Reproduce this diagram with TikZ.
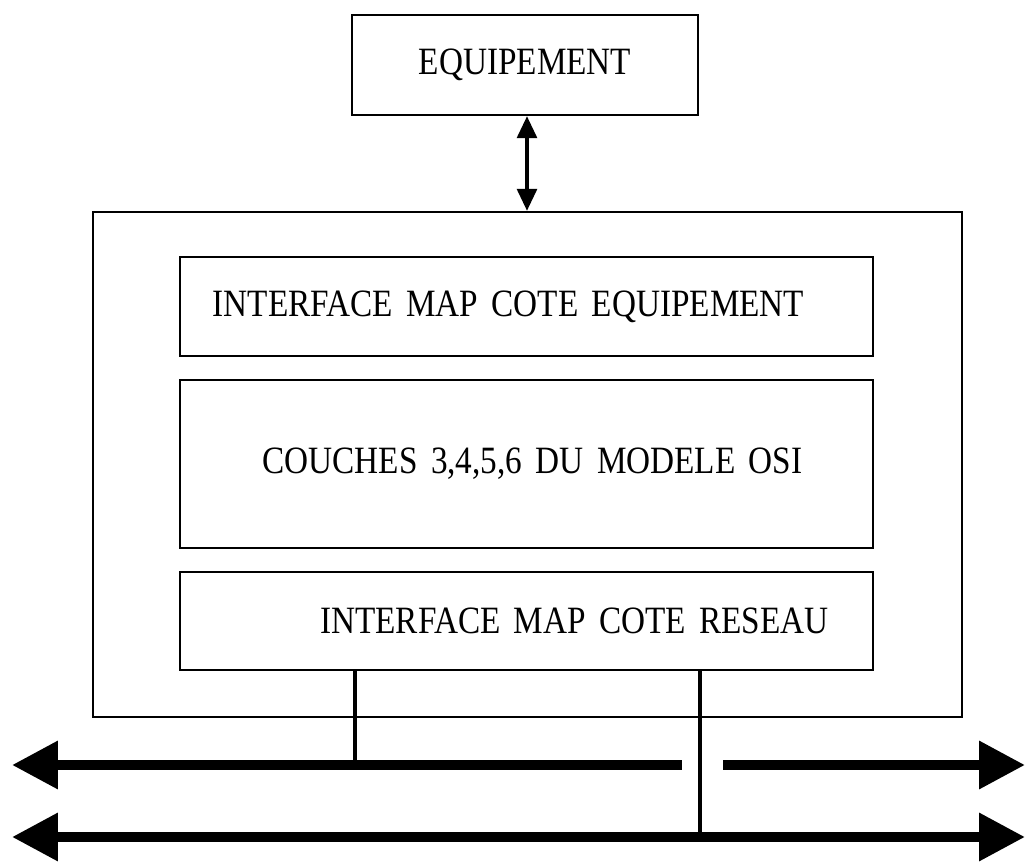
\documentclass[tikz,border=0pt]{standalone}
\usepackage{fontspec}
\setmainfont[FakeStretch=0.86,WordSpace=1.6]{Liberation Serif}
\usetikzlibrary{arrows.meta}
\tikzset{
  boite/.style={draw, line width=0.7pt, rectangle, inner sep=0pt},
  titre/.style={font=\fontsize{11}{13}\selectfont},
  bus/.style={line width=2.8pt, {Triangle[length=4.6mm,width=4.6mm]}-{Triangle[length=4.6mm,width=4.6mm]}},
}
\begin{document}
\begin{tikzpicture}
      \useasboundingbox (0,0) rectangle (10.27,8.65);
      \node[boite, titre, minimum width=3.46cm, minimum height=1.00cm] (equip) at (5.25,8.00) {EQUIPEMENT};
      \node[boite, minimum width=8.69cm, minimum height=5.05cm] (map) at (5.275,4.005) {};
      \node[boite, minimum width=6.93cm, minimum height=0.99cm,
        label={[titre, xshift=-1.8mm]center:INTERFACE MAP COTE EQUIPEMENT}] (haut) at (5.265,5.585) {};
      \node[boite, minimum width=6.93cm, minimum height=1.68cm,
        label={[titre, xshift=0.6mm]center:COUCHES 3,4,5,6 DU MODELE OSI}] (osi) at (5.265,4.01) {};
      \node[boite, minimum width=6.93cm, minimum height=0.98cm,
        label={[titre, xshift=4.8mm]center:INTERFACE MAP COTE RESEAU}] (bas) at (5.265,2.44) {};
      % bus du reseau
      \coordinate (g1) at (0.12,1.00);
      \coordinate (c1) at (6.82,1.00);
      \coordinate (c2) at (7.23,1.00);
      \coordinate (d1) at (10.25,1.00);
      \coordinate (g2) at (0.12,0.28);
      \coordinate (d2) at (10.25,0.28);
      \coordinate (p1) at (3.55,1.00);
      \coordinate (p2) at (7.00,0.28);
      \begin{scope}[line width=0.9pt]
        \draw[{Triangle[length=2.2mm,width=2.0mm]}-{Triangle[length=2.2mm,width=2.0mm]}]
          (equip.south -| 5.27,0) to (map.north -| 5.27,0);
        \draw (bas.south -| p1) to (p1);
        \draw (bas.south -| p2) to (p2);
      \end{scope}
      \begin{scope}[line width=2.8pt]
        \draw[{Triangle[length=4.6mm,width=4.6mm]}-] (g1) to (c1);
        \draw[-{Triangle[length=4.6mm,width=4.6mm]}] (c2) to (d1);
        \draw[bus] (g2) to (d2);
      \end{scope}
    \end{tikzpicture}
\end{document}
